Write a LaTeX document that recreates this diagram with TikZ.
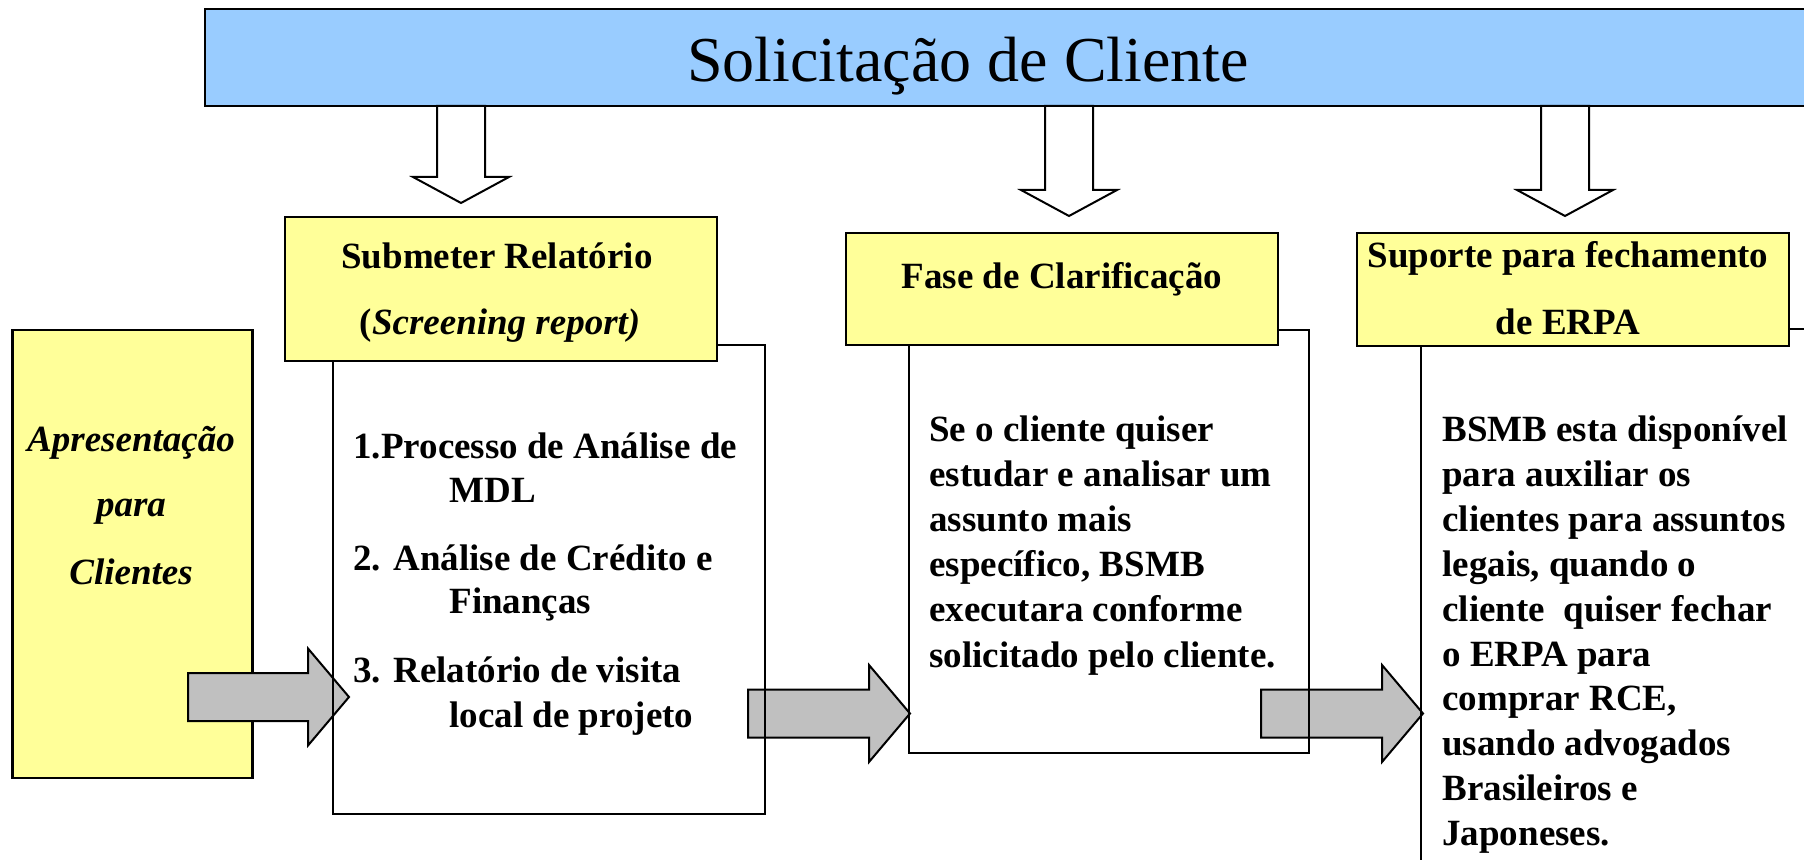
\documentclass[tikz,border=0pt]{standalone}
\usepackage{fontspec}
\setmainfont{Liberation Serif}

\definecolor{barblue}{HTML}{99CCFF}
\definecolor{boxyellow}{HTML}{FFFF99}
\definecolor{arrowgray}{HTML}{C0C0C0}

% hollow arrow pointing down: tail centre, shaft length
\newcommand{\downblock}[2]{\draw[whitearrow] (#1) ++(-24,0) -- ++(0,#2) -- ++(-24,0) -- ++(48,26) -- ++(48,-26) -- ++(-24,0) -- ++(0,-#2) -- cycle;}
% grey arrow pointing right: tail centre, shaft length
\newcommand{\rightblock}[2]{\draw[grayarrow] (#1) ++(0,-24) -- ++(#2,0) -- ++(0,-24.5) -- ++(41,48.5) -- ++(-41,48.5) -- ++(0,-24.5) -- ++(-#2,0) -- cycle;}

\begin{document}
\begin{tikzpicture}[x=0.5pt, y=-0.5pt,
  yellowbox/.style={draw, line width=1.2pt, fill=boxyellow, inner sep=0, outer sep=0, anchor=north west},
  openbox/.style={draw, line width=1pt, inner sep=0, outer sep=0, anchor=north west},
  txt/.style={inner sep=0, font=\bfseries\fontsize{18.5}{22}\selectfont},
  grayarrow/.style={draw, line width=1pt, fill=arrowgray, line join=miter},
  whitearrow/.style={draw, line width=1pt, fill=white, line join=miter}]
\clip (0,0) rectangle (1804,860);

% left box
\node[yellowbox, minimum width=120pt, minimum height=224pt] (apres) at (12.5,330) {};
\node[txt, anchor=base, font=\bfseries\itshape\fontsize{18.5}{22}\selectfont] (apres1) at (131,452) {Apresentação};
\node[txt, anchor=base, font=\bfseries\itshape\fontsize{18.5}{22}\selectfont] (apres2) at (131,517) {para};
\node[txt, anchor=base, font=\bfseries\itshape\fontsize{18.5}{22}\selectfont] (apres3) at (131,585) {Clientes};

% grey arrows
\coordinate (ta) at (188,697);
\coordinate (tb) at (748,713.5);
\coordinate (tc) at (1261,713.5);
\rightblock{ta}{120}
\rightblock{tb}{121}
\rightblock{tc}{121}

% text boxes
\node[openbox, minimum width=216pt, minimum height=234.5pt] (body1) at (333,345) {};
\node[openbox, minimum width=200pt, minimum height=211.5pt] (body2) at (909,330) {};
\node[openbox, minimum width=216pt, minimum height=280pt] (body3) at (1421,329) {};

\foreach \x/\y/\t [count=\i] in {353/459/{1.Processo de Análise de}, 449/503/MDL,
    353/571/{2. Análise de Crédito e}, 449/614/Finanças,
    353/682/{3. Relatório de visita}, 449/727/{local de projeto}}
  \node[txt, anchor=base west] (item\i) at (\x,\y) {\t};

\foreach \t [count=\i] in {Se o cliente quiser, estudar e analisar um, assunto mais,
    {específico, BSMB}, executara conforme, solicitado pelo cliente.}
  \node[txt, anchor=base west] (clar\i) at (929,{442+45*(\i-1)}) {\t};

\foreach \t [count=\i] in {BSMB esta disponível, para auxiliar os, clientes para assuntos,
    {legais, quando o}, cliente~ quiser fechar, o ERPA para, {comprar RCE,},
    usando advogados, Brasileiros e, Japoneses.}
  \node[txt, anchor=base west] (erpa\i) at (1442,{442+44.8*(\i-1)}) {\t};

% headers
\node[yellowbox, minimum width=216pt, minimum height=72pt] (head1) at (285,217) {};
\node[yellowbox, minimum width=216pt, minimum height=56pt] (head2) at (846,233) {};
\node[yellowbox, minimum width=216pt, minimum height=56.5pt] (head3) at (1357,233) {};
\node[txt, anchor=base] (head1a) at (497,269) {Submeter Relatório};
\node[txt, anchor=base] (head1b) at (500,335) {(\textit{Screening report)}};
\node[txt, anchor=base] (head2a) at (1062,289) {Fase de Clarificação};
\node[txt, anchor=base] (head3a) at (1568,268) {Suporte para fechamento};
\node[txt, anchor=base] (head3b) at (1568,335) {de ERPA};

% top bar
\node[draw, line width=1pt, fill=barblue, inner sep=0, outer sep=0, anchor=north west,
  minimum width=820pt, minimum height=48.5pt] (bar) at (205,9) {};
\node[inner sep=0, anchor=base, font=\fontsize{32}{38}\selectfont] (title) at (968,82) {Solicitação de Cliente};

\coordinate (d1) at (461,106);
\coordinate (d2) at (1069,106);
\coordinate (d3) at (1565,106);
\downblock{d1}{71}
\downblock{d2}{84}
\downblock{d3}{84}
\end{tikzpicture}
\end{document}
